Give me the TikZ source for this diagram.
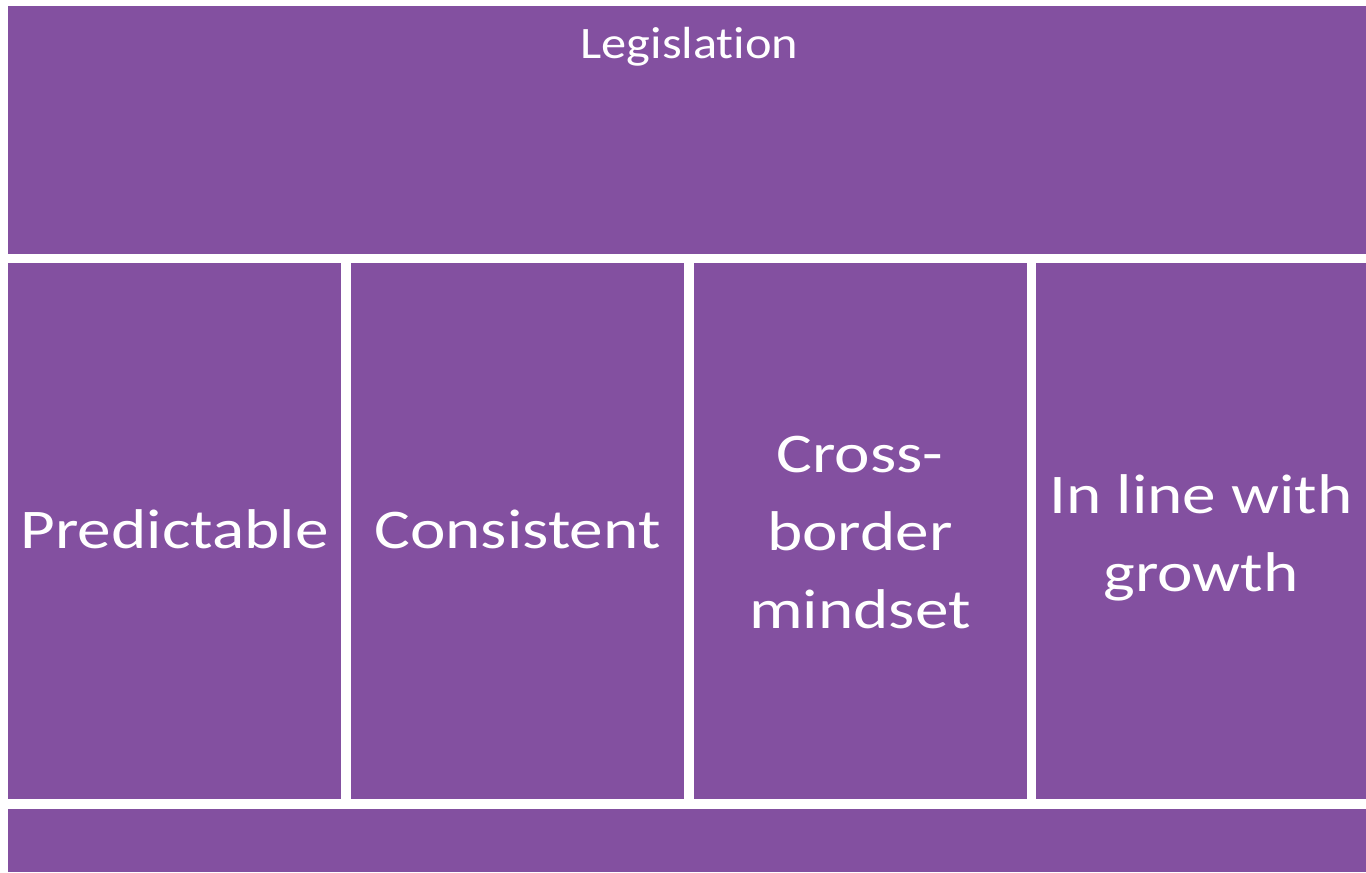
\documentclass[tikz,border=0pt]{standalone}
\usepackage{fontspec}
\setmainfont{Carlito}[Ligatures=NoCommon,FakeStretch=1.2]
\newfontfamily\legisfont{Carlito}[Ligatures=NoCommon,FakeStretch=1.12]
\definecolor{boxpurple}{RGB}{131,80,160}
\begin{document}
\begin{tikzpicture}[x=0.75pt,y=-0.75pt,
  box/.style={fill=boxpurple,draw=none,inner sep=0pt,outer sep=0pt},
  colbox/.style={box,minimum width=249.75pt,minimum height=402pt},
  coltext/.style={text=white,inner sep=0pt,align=center,font=\fontsize{42}{58.5}\selectfont},
  titletext/.style={text=white,inner sep=0pt,font=\legisfont\fontsize{33.75}{40}\selectfont}]
\useasboundingbox (0,0) rectangle (1366,872);
\fill[white] (0,0) rectangle (1366,872);
\node[box,minimum width=1018.5pt,minimum height=186pt] (top) at (687,130) {};
\node[titletext,anchor=base] (legis) at (689.5,58) {Legislation};
\node[colbox] (c1) at (174.5,531) {};
\node[colbox] (c2) at (517.5,531) {};
\node[colbox] (c3) at (860,531) {};
\node[colbox,minimum width=247.5pt] (c4) at (1201,531) {};
\node[coltext,anchor=base] (t1) at (c1.center |- 0,548) {Predictable};
\node[coltext,anchor=base] (t2) at (c2.center |- 0,548) {Consistent};
\node[coltext] (t3) at (860,533) {Cross-\\border\\mindset};
\node[coltext] (t4) at (1201,538) {In line with\\growth};
\node[box,minimum width=1018.5pt,minimum height=47.25pt] (bottom) at (687,840.5) {};
\end{tikzpicture}
\end{document}
